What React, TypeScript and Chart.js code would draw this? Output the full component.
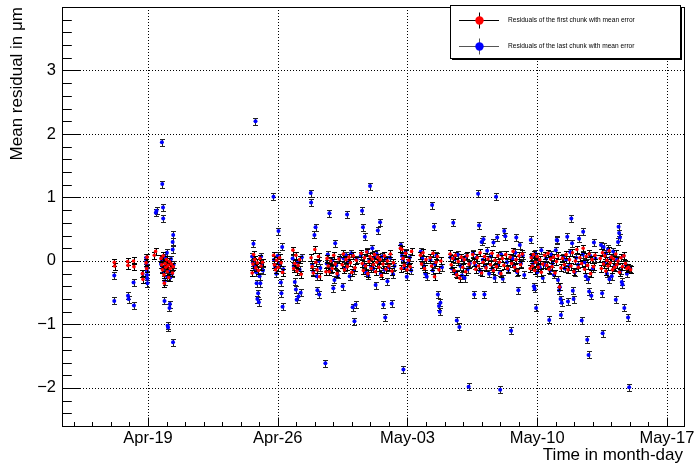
import React, { useEffect, useRef } from "react";
import { Chart, registerables } from "chart.js";

Chart.register(...registerables);

// time in "April day" units (Apr-19 = 19, May-03 = 33, May-17 = 47)
const tickDays = [19, 26, 33, 40, 47];
const tickLabels = ["Apr-19", "Apr-26", "May-03", "May-10", "May-17"];
const yTicks = [-2, -1, 0, 1, 2, 3];

const firstChunkErr = 0.055;
const lastChunkErr = 0.055;

// [time, mean residual]
const firstChunk: [number, number][] = [
  [17.18, -0.02], [17.2, -0.08], [17.9, -0.01], [17.92, -0.07], [18.22, 0.0], [18.24, -0.09],
  [18.7, -0.2], [18.73, -0.29], [18.9, -0.03], [18.93, -0.12], [18.95, 0.06], [19.34, 0.09],
  [19.41, 0.15], [19.7, 0.04], [19.74, -0.06], [19.78, -0.14], [19.82, 0.08], [19.86, -0.22],
  [19.88, -0.35], [19.92, -0.04], [19.96, -0.1], [20.0, 0.02], [20.04, -0.17], [20.08, -0.07],
  [20.12, -0.26], [20.16, -0.01], [20.2, -0.12], [20.26, -0.05], [20.32, -0.19], [20.36, -0.09],
  [24.62, -0.19], [24.66, -0.05], [24.7, 0.1], [24.76, 0.02], [24.82, -0.11], [24.9, -0.03],
  [24.96, -0.15], [25.04, 0.04], [25.1, -0.08], [25.18, -0.02], [25.78, 0.09], [25.82, -0.06],
  [25.88, -0.14], [25.94, 0.01], [26.02, -0.1], [26.1, 0.05], [26.18, -0.03], [26.26, -0.18],
  [26.82, 0.17], [26.86, -0.12], [26.92, -0.04], [26.98, 0.09], [27.04, -0.16], [27.1, -0.07],
  [27.18, 0.02], [27.26, -0.21], [27.8, 0.05], [27.86, -0.09], [27.92, -0.19], [28.0, 0.18],
  [28.06, -0.02], [28.12, -0.14], [28.2, 0.07], [28.26, -0.25], [28.6, -0.17], [28.66, 0.04],
  [28.72, -0.08], [28.78, -0.17], [28.86, 0.0], [28.94, -0.12], [29.02, 0.09], [29.1, -0.05],
  [29.2, -0.2], [29.3, 0.03], [29.48, -0.06], [29.54, 0.11], [29.6, -0.14], [29.68, 0.02],
  [29.76, -0.09], [29.84, 0.06], [29.92, -0.03], [30.0, -0.18], [30.08, 0.08], [30.16, -0.11],
  [30.24, 0.01], [30.5, 0.12], [30.56, -0.04], [30.62, -0.15], [30.68, 0.05], [30.74, -0.08],
  [30.8, 0.14], [30.86, -0.2], [30.92, -0.01], [30.98, 0.07], [31.04, -0.12], [31.1, 0.03],
  [31.16, -0.06], [31.22, 0.1], [31.28, -0.17], [31.34, -0.02], [31.4, 0.06], [31.46, -0.1],
  [31.52, 0.02], [31.6, -0.23], [31.68, -0.05], [31.76, 0.08], [31.84, -0.13], [31.92, 0.0],
  [32.0, -0.08], [32.08, 0.11], [32.16, -0.16], [32.24, -0.03], [32.62, 0.2], [32.66, -0.12],
  [32.7, 0.18], [32.76, 0.04], [32.82, -0.07], [32.9, 0.12], [32.98, -0.14], [33.06, 0.01],
  [33.14, -0.09], [33.22, 0.15], [33.7, 0.09], [33.76, -0.05], [33.84, 0.13], [33.92, -0.12],
  [34.0, 0.02], [34.22, 0.05], [34.3, -0.08], [34.38, 0.12], [34.46, -0.25], [34.54, -0.02],
  [34.62, 0.07], [34.7, -0.14], [34.8, 0.0], [35.3, 0.11], [35.36, -0.06], [35.44, 0.04],
  [35.52, -0.15], [35.58, 0.09], [35.66, -0.22], [35.74, -0.01], [35.82, -0.27], [35.9, 0.06],
  [35.98, -0.1], [36.06, 0.02], [36.14, -0.17], [36.22, 0.08], [36.32, -0.05], [36.52, 0.1],
  [36.6, -0.03], [36.68, -0.13], [36.76, 0.05], [36.84, -0.08], [36.92, 0.13], [37.0, -0.19],
  [37.08, -0.02], [37.16, 0.07], [37.24, -0.11], [37.34, 0.03], [37.48, -0.06], [37.56, 0.12],
  [37.64, -0.15], [37.72, 0.01], [37.8, -0.09], [37.88, 0.08], [37.96, -0.02], [38.04, -0.2],
  [38.12, 0.04], [38.2, -0.07], [38.3, 0.1], [38.4, -0.12], [38.54, 0.06], [38.62, -0.04],
  [38.7, 0.15], [38.78, -0.1], [38.86, 0.02], [38.94, -0.16], [39.02, 0.08], [39.1, -0.06],
  [39.2, 0.11], [39.62, -0.12], [39.68, 0.05], [39.74, -0.08], [39.8, 0.1], [39.86, -0.15],
  [39.92, -0.02], [40.0, 0.07], [40.06, -0.1], [40.14, 0.02], [40.22, -0.18], [40.3, -0.05],
  [40.4, 0.09], [40.52, -0.07], [40.58, 0.12], [40.64, -0.13], [40.72, 0.03], [40.8, -0.09],
  [40.88, 0.06], [40.96, -0.19], [41.04, -0.01], [41.12, 0.08], [41.2, -0.41], [41.28, -0.11],
  [41.36, 0.04], [41.46, -0.06], [41.56, 0.1], [41.66, -0.14], [41.74, 0.02], [41.82, -0.08],
  [41.9, 0.13], [41.98, -0.17], [42.06, 0.0], [42.14, 0.18], [42.22, -0.1], [42.3, 0.05],
  [42.4, -0.04], [42.48, 0.2], [42.56, -0.13], [42.64, 0.07], [42.72, -0.07], [42.8, 0.11],
  [42.88, -0.2], [42.96, 0.02], [43.04, -0.09], [43.12, 0.09], [43.4, 0.04], [43.46, -0.12],
  [43.52, 0.13], [43.58, -0.05], [43.64, 0.08], [43.7, -0.16], [43.76, 0.01], [43.82, -0.08],
  [43.88, 0.16], [43.94, -0.03], [44.0, 0.06], [44.06, -0.14], [44.12, 0.03], [44.18, -0.1],
  [44.24, 0.11], [44.3, -0.06], [44.36, 0.0], [44.44, -0.18], [44.52, 0.05], [44.6, -0.09],
  [44.68, 0.08], [44.76, -0.04], [44.84, -0.12], [44.92, -0.1], [45.04, -0.14],
];

const lastChunk: [number, number][] = [
  [17.18, -0.23], [17.18, -0.63], [17.92, -0.55], [17.95, -0.6], [18.22, -0.34], [18.24, -0.7],
  [18.71, -0.2], [18.9, 0.05], [18.91, 0.0], [18.92, -0.05], [18.93, -0.1], [18.94, -0.15],
  [18.95, -0.22], [18.96, -0.28], [18.97, -0.35], [19.46, 0.79], [19.42, 0.76], [19.75, 1.87],
  [19.77, 1.21], [19.81, 0.84], [19.82, 0.67], [19.7, -0.05], [19.74, 0.02], [19.78, -0.12],
  [19.84, -0.18], [19.89, -0.63], [19.9, -0.32], [19.94, 0.06], [19.98, -0.08], [20.02, 0.13],
  [20.04, -0.25], [20.06, -1.02], [20.08, -1.05], [20.1, -0.04], [20.14, -0.15], [20.16, -0.74],
  [20.18, -0.68], [20.2, -0.26], [20.24, 0.03], [20.28, -0.1], [20.33, 0.3], [20.33, 0.18],
  [20.36, 0.41], [20.35, -1.28], [20.38, -0.06], [20.3, -0.2],
  [24.62, 0.07], [24.66, -0.02], [24.69, 0.27], [24.72, -0.08], [24.76, -0.12], [24.8, 2.2],
  [24.84, -0.18], [24.86, -0.35], [24.9, -0.6], [24.94, -0.51], [24.98, -0.65], [25.02, -0.24],
  [25.06, -0.35], [25.1, 0.07], [25.14, -0.07], [25.2, -0.15], [25.77, 1.01], [25.8, 0.02],
  [25.86, -0.09], [25.92, -0.2], [26.0, 0.08], [26.04, 0.47], [26.1, -0.05], [26.17, -0.34],
  [26.2, -0.51], [26.24, 0.22], [26.26, -0.72], [26.3, -0.13], [26.8, 0.04], [26.86, -0.08],
  [26.92, -0.33], [26.98, -0.45], [27.02, -0.61], [27.06, -0.02], [27.12, -0.56], [27.18, -0.14],
  [27.24, -0.5], [27.3, 0.06], [27.78, 1.07], [27.8, 0.92], [27.86, -0.06], [27.92, -0.17],
  [27.98, 0.41], [28.04, 0.53], [28.1, -0.24], [28.14, -0.46], [28.2, 0.0], [28.24, -0.53],
  [28.3, -0.11], [28.57, -1.61], [28.64, -0.04], [28.7, 0.1], [28.79, 0.75], [28.86, -0.13],
  [28.94, 0.01], [29.0, -0.43], [29.06, -0.3], [29.1, 0.28], [29.16, -0.07], [29.24, -0.22],
  [29.34, 0.05], [29.5, -0.4], [29.56, 0.04], [29.62, -0.11], [29.68, 0.09], [29.74, 0.73],
  [29.8, -0.02], [29.88, -0.24], [29.96, 0.12], [30.04, -0.73], [30.1, -0.15], [30.14, -0.95],
  [30.2, -0.69], [30.26, 0.03], [30.48, 0.08], [30.55, 0.79], [30.6, 0.53], [30.66, -0.06],
  [30.7, 0.38], [30.76, -0.18], [30.82, 0.15], [30.88, -0.23], [30.94, 0.02], [30.98, 1.18],
  [31.04, -0.09], [31.1, 0.2], [31.16, -0.12], [31.22, 0.06], [31.28, -0.38], [31.34, 0.11],
  [31.4, 0.48], [31.46, -0.04], [31.52, 0.61], [31.56, -0.2], [31.62, 0.07], [31.7, -0.69],
  [31.76, -0.14], [31.8, -0.89], [31.86, 0.03], [31.92, -0.32], [31.98, -0.1], [32.06, 0.05],
  [32.15, -0.67], [32.22, -0.21], [32.3, -0.08], [32.64, 0.25], [32.7, 0.08], [32.76, 0.02],
  [32.78, -1.71], [32.84, -0.1], [32.9, 0.14], [32.96, -0.25], [33.04, -0.03], [33.12, 0.06],
  [33.2, -0.15], [33.72, 0.15], [33.8, 0.04], [33.88, -0.08], [33.96, -0.2], [34.04, -0.25],
  [34.24, 0.02], [34.33, 0.88], [34.36, -0.15], [34.43, 0.54], [34.48, -0.05], [34.56, 0.08],
  [34.64, -0.53], [34.7, -0.71], [34.74, -0.8], [34.78, -0.66], [34.86, -0.1], [35.32, 0.06],
  [35.4, -0.12], [35.47, 0.6], [35.54, 0.03], [35.6, -0.2], [35.66, -0.94], [35.72, 0.1],
  [35.8, -1.04], [35.86, -0.08], [35.94, -0.23], [36.0, 0.01], [36.08, -0.27], [36.16, 0.07],
  [36.24, -0.13], [36.3, -1.98], [36.36, -0.04], [36.54, 0.12], [36.6, -0.53], [36.66, -0.07],
  [36.72, 0.05], [36.81, 1.06], [36.86, 0.56], [36.92, -0.16], [37.0, 0.3], [37.06, 0.02],
  [37.1, 0.34], [37.15, -0.53], [37.22, -0.09], [37.3, 0.16], [37.4, -0.2], [37.5, 0.07],
  [37.58, -0.12], [37.64, 0.29], [37.7, -0.27], [37.78, 1.01], [37.84, 0.37], [37.9, -0.05],
  [37.98, -0.19], [38.0, -2.03], [38.06, 0.1], [38.14, -0.28], [38.22, 0.47], [38.28, 0.39],
  [38.36, -0.02], [38.44, -0.14], [38.59, -1.1], [38.66, 0.04], [38.74, -0.08], [38.82, 0.13],
  [38.87, 0.37], [38.92, -0.18], [38.98, -0.46], [39.06, 0.25], [39.12, -0.04], [39.22, 0.09],
  [39.3, -0.22], [39.65, 0.33], [39.7, 0.07], [39.76, -0.05], [39.82, -0.4], [39.86, -0.44],
  [39.9, 0.12], [39.94, -0.74], [40.0, -0.18], [40.06, 0.02], [40.14, -0.1], [40.22, 0.17],
  [40.3, -0.27], [40.4, -0.06], [40.48, 0.04], [40.65, -0.93], [40.7, -0.15], [40.76, 0.1],
  [40.82, -0.04], [40.9, -0.22], [41.0, 0.17], [41.05, 0.33], [41.08, 0.32], [41.12, -0.3],
  [41.18, -0.46], [41.22, -0.41], [41.26, -0.6], [41.28, -0.85], [41.32, -0.66], [41.4, 0.06],
  [41.48, -0.12], [41.56, 0.02], [41.62, 0.38], [41.66, -0.64], [41.72, -0.08], [41.78, 0.14],
  [41.84, 0.67], [41.88, 0.28], [41.92, -0.47], [41.96, -0.6], [42.02, -0.18], [42.1, 0.05],
  [42.2, -0.06], [42.26, 0.35], [42.4, -0.94], [42.46, 0.1], [42.48, 0.46], [42.56, -0.02],
  [42.62, -0.24], [42.7, -1.24], [42.74, -0.29], [42.77, -1.48], [42.8, -0.48], [42.86, 0.08],
  [42.92, -0.55], [43.0, -0.12], [43.06, 0.29], [43.14, 0.04], [43.44, 0.25], [43.5, -0.51],
  [43.53, -1.14], [43.58, 0.22], [43.64, -0.03], [43.7, 0.12], [43.76, -0.2], [43.82, 0.19],
  [43.9, -0.29], [43.96, 0.05], [44.02, -0.24], [44.1, 0.15], [44.16, -0.09], [44.24, -0.61],
  [44.3, 0.02], [44.36, 0.3], [44.39, 0.54], [44.42, 0.44], [44.46, 0.37], [44.5, -0.15],
  [44.56, -0.33], [44.6, -0.37], [44.66, 0.08], [44.7, -0.74], [44.78, -0.06], [44.84, -0.2],
  [44.9, -0.89], [44.96, -1.99], [45.02, -0.12],
];

const FONT = "'Liberation Sans', Arial, Helvetica, sans-serif";

const rootStyle = {
  id: "rootStyle",
  beforeDatasetsDraw(chart: any) {
    const { ctx, chartArea: a, scales } = chart;
    const xs = scales.x, ys = scales.y;
    ctx.save();
    ctx.strokeStyle = "#000";
    ctx.lineWidth = 1;
    ctx.setLineDash([1, 2]);
    ctx.beginPath();
    for (const v of yTicks) {
      const p = Math.round(ys.getPixelForValue(v)) + 0.5;
      ctx.moveTo(a.left, p);
      ctx.lineTo(a.right, p);
    }
    for (const v of tickDays) {
      const p = Math.round(xs.getPixelForValue(v)) + 0.5;
      ctx.moveTo(p, a.top);
      ctx.lineTo(p, a.bottom);
    }
    ctx.stroke();
    ctx.restore();
  },
  beforeDatasetDraw(chart: any, args: any) {
    const ds = chart.data.datasets[args.index];
    const { ctx, scales } = chart;
    const xs = scales.x, ys = scales.y;
    ctx.save();
    ctx.strokeStyle = ds.errColor;
    ctx.lineWidth = 1;
    ctx.beginPath();
    for (const p of ds.data) {
      const px = Math.round(xs.getPixelForValue(p.x)) + 0.5;
      const y1 = Math.round(ys.getPixelForValue(p.y + ds.err)) + 0.5;
      const y2 = Math.round(ys.getPixelForValue(p.y - ds.err)) + 0.5;
      ctx.moveTo(px, y1);
      ctx.lineTo(px, y2);
      ctx.moveTo(px - 2.5, y1);
      ctx.lineTo(px + 2.5, y1);
      ctx.moveTo(px - 2.5, y2);
      ctx.lineTo(px + 2.5, y2);
    }
    ctx.stroke();
    ctx.restore();
  },
  afterDraw(chart: any) {
    const { ctx, chartArea: a, scales } = chart;
    const xs = scales.x, ys = scales.y;
    ctx.save();
    ctx.strokeStyle = "#000";
    ctx.lineWidth = 1;
    ctx.setLineDash([]);
    // frame
    ctx.strokeRect(Math.round(a.left) + 0.5, Math.round(a.top) + 0.5,
      Math.round(a.right) - Math.round(a.left), Math.round(a.bottom) - Math.round(a.top));
    // ticks
    ctx.beginPath();
    const bottom = Math.round(a.bottom) + 0.5;
    const left = Math.round(a.left) + 0.5;
    for (let d = Math.ceil(xs.min); d <= xs.max; d++) {
      const p = Math.round(xs.getPixelForValue(d)) + 0.5;
      const major = tickDays.includes(d);
      ctx.moveTo(p, bottom);
      ctx.lineTo(p, bottom - (major ? 9 : 4.5));
    }
    for (let i = -13; i <= 20; i++) {
      const v = i / 5;
      if (v < ys.min - 1e-9 || v > ys.max + 1e-9) continue;
      const p = Math.round(ys.getPixelForValue(v)) + 0.5;
      const major = i % 5 === 0;
      ctx.moveTo(left, p);
      ctx.lineTo(left + (major ? 18.5 : 9.3), p);
    }
    ctx.stroke();

    // axis titles
    ctx.fillStyle = "#000";
    ctx.font = `17px ${FONT}`;
    ctx.textAlign = "right";
    ctx.textBaseline = "middle";
    ctx.fillText("Time in month-day", 683, 455);
    ctx.save();
    ctx.translate(17, 7);
    ctx.rotate(-Math.PI / 2);
    ctx.textAlign = "right";
    ctx.fillText("Mean residual in \u03bcm", 0, 0);
    ctx.restore();

    // legend
    const lx = 450, ly = 5, lw = 230, lh = 53;
    ctx.fillStyle = "#000";
    ctx.fillRect(lx + 2, ly + 2, lw, lh);
    ctx.fillStyle = "#fff";
    ctx.fillRect(lx, ly, lw, lh);
    ctx.strokeRect(lx + 0.5, ly + 0.5, lw, lh);
    const entries = [
      { y: 20.5, color: "#ff0000", line: "#000", text: "Residuals of the first chunk with mean error" },
      { y: 46.5, color: "#0000ff", line: "#555", text: "Residuals of the last chunk with mean error" },
    ];
    for (const e of entries) {
      ctx.strokeStyle = e.line;
      ctx.beginPath();
      ctx.moveTo(459, e.y);
      ctx.lineTo(499, e.y);
      ctx.moveTo(479.5, e.y - 8);
      ctx.lineTo(479.5, e.y + 8);
      ctx.stroke();
      ctx.fillStyle = e.color;
      ctx.beginPath();
      ctx.arc(479.5, e.y, 4.2, 0, Math.PI * 2);
      ctx.fill();
      ctx.fillStyle = "#000";
      ctx.font = `6.6px ${FONT}`;
      ctx.textAlign = "left";
      ctx.textBaseline = "middle";
      ctx.fillText(e.text, 508, e.y);
    }
    ctx.restore();
  },
};

export default function App() {
  const ref = useRef<HTMLCanvasElement | null>(null);
  useEffect(() => {
    document.body.style.margin = "0";
    const canvas = ref.current!;
    const chart = new Chart(canvas, {
      type: "scatter",
      data: {
        datasets: [
          {
            label: "Residuals of the first chunk with mean error",
            data: firstChunk.map(([x, y]) => ({ x, y })),
            backgroundColor: "#ff0000",
            borderColor: "#ff0000",
            pointRadius: 1.8,
            pointBorderWidth: 0,
            err: firstChunkErr,
            errColor: "#000",
          } as any,
          {
            label: "Residuals of the last chunk with mean error",
            data: lastChunk.map(([x, y]) => ({ x, y })),
            backgroundColor: "#0000ff",
            borderColor: "#0000ff",
            pointRadius: 2,
            pointBorderWidth: 0,
            err: lastChunkErr,
            errColor: "#222",
          } as any,
        ],
      },
      options: {
        responsive: false,
        animation: false,
        devicePixelRatio: 1,
        events: [],
        layout: { padding: { top: 7, right: 11, bottom: 0, left: 0 } },
        plugins: { legend: { display: false }, tooltip: { enabled: false } },
        scales: {
          x: {
            type: "linear",
            min: 14.36,
            max: 47.92,
            grid: { display: false, drawTicks: false },
            border: { display: false },
            afterBuildTicks: (s: any) => {
              s.ticks = tickDays.map((v) => ({ value: v }));
            },
            afterFit: (s: any) => {
              s.height = 39;
              s.paddingLeft = 0;
              s.paddingRight = 0;
            },
            ticks: {
              autoSkip: false,
              maxRotation: 0,
              padding: 3,
              color: "#000",
              font: { family: FONT, size: 16.5 },
              callback: (_v: any, i: number) => tickLabels[i],
            },
          },
          y: {
            type: "linear",
            min: -2.6,
            max: 4,
            grid: { display: false, drawTicks: false },
            border: { display: false },
            afterBuildTicks: (s: any) => {
              s.ticks = yTicks.map((v) => ({ value: v }));
            },
            afterFit: (s: any) => {
              s.width = 62;
              s.paddingTop = 0;
              s.paddingBottom = 0;
            },
            ticks: {
              padding: 6,
              color: "#000",
              font: { family: FONT, size: 16.5 },
              callback: (v: any) => (v < 0 ? "\u2212" + Math.abs(v) : String(v)),
            },
          },
        },
      },
      plugins: [rootStyle],
    });
    return () => chart.destroy();
  }, []);
  return (
    <div style={{ position: "absolute", left: 0, top: 0, width: 695, height: 465 }}>
      <canvas ref={ref} width={695} height={465} style={{ display: "block", width: 695, height: 465 }} />
    </div>
  );
}
